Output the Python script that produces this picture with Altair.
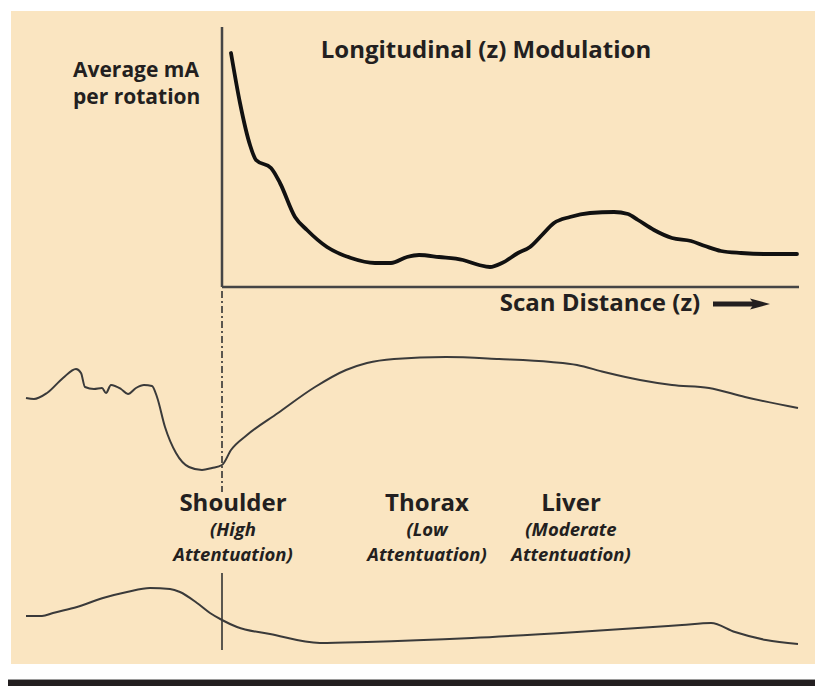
import altair as alt
import pandas as pd

# --- data (figure units: x = scan position, y = vertical position, top-down) ---
ma_z = [231, 240, 250, 256, 271, 280, 295, 307, 327, 351, 375, 391, 407, 419, 439, 463, 479, 490,
        502, 518, 530, 542, 554, 570, 590, 614, 628, 638, 654, 672, 691, 705, 721, 741, 765, 797]
ma_y = [53, 103, 145, 160, 168, 183, 217, 230, 247, 258, 263, 263, 257, 255, 257, 260, 265, 267,
        263, 253, 247, 235, 223, 217, 213, 212, 214, 220, 230, 238, 241, 246, 251, 253, 254, 254]

lat_z = [26, 34, 47, 63, 76, 81, 85, 94, 102, 106, 111, 121, 128, 136, 144, 152, 157, 165, 176, 189,
         202, 212, 222, 231, 247, 278, 315, 346, 367, 394, 446, 499, 551, 577, 604, 640, 672, 709, 745, 798]
lat_y = [398, 399, 393, 378, 369, 373, 387, 389, 388, 393, 385, 389, 394, 388, 385, 386, 397, 427, 453, 467,
         470, 468, 465, 450, 435, 413, 387, 370, 363, 359, 357, 359, 362, 365, 372, 380, 385, 388, 397, 408]

ap_z = [26, 42, 53, 77, 103, 127, 150, 170, 180, 197, 210, 222, 237, 270, 320, 367, 472, 577, 682, 711, 735, 766, 798]
ap_y = [616, 616, 613, 607, 598, 592, 588, 589, 592, 603, 613, 620, 627, 634, 643, 642, 638, 632, 625, 623, 632, 640, 644]

region_names = ["Shoulder", "Thorax", "Liver"]
region_x = [233, 427, 571]
region_sub1 = ["(High", "(Low", "(Moderate"]
region_sub2 = ["Attentuation)", "Attentuation)", "Attentuation)"]

title_text = "Longitudinal (z) Modulation"
ylabel_lines = ["Average mA", "per rotation"]
xlabel_text = "Scan Distance (z)"

BEIGE = "#FAE5C1"
INK = "#231F20"
FONT = "Open Sans"

xs = alt.Scale(domain=[8, 815], nice=False, zero=False)
ys = alt.Scale(domain=[688, 8], nice=False, zero=False)

def X(f="x"):
    return alt.X(f"{f}:Q", scale=xs, axis=None)

def Y(f="y"):
    return alt.Y(f"{f}:Q", scale=ys, axis=None)

# panel and bottom bar
panel = alt.Chart(pd.DataFrame({"x": [11], "x2": [815], "y": [11], "y2": [664]})).mark_rect(
    color=BEIGE).encode(x=X(), x2="x2:Q", y=Y(), y2="y2:Q")
bar = alt.Chart(pd.DataFrame({"x": [8, 8], "x2": [815, 815], "y": [679, 680], "y2": [680, 688],
                              "c": ["#9a9a9a", INK]})).mark_rect().encode(
    x=X(), x2="x2:Q", y=Y(), y2="y2:Q", color=alt.Color("c:N", scale=None))

# axes lines
axes = alt.Chart(pd.DataFrame({"x": [222, 222], "x2": [222, 799], "y": [27, 287], "y2": [287, 287]})).mark_rule(
    color="#454545", strokeWidth=2.5).encode(x=X(), x2="x2:Q", y=Y(), y2="y2:Q")
dashdot = alt.Chart(pd.DataFrame({"x": [222], "y": [291], "y2": [492]})).mark_rule(
    color="#333333", strokeWidth=1.6, strokeDash=[7, 3, 2, 3]).encode(x=X(), y=Y(), y2="y2:Q")
solid = alt.Chart(pd.DataFrame({"x": [222], "y": [573], "y2": [650]})).mark_rule(
    color="#333333", strokeWidth=1.6).encode(x=X(), y=Y(), y2="y2:Q")

# curves
ma = alt.Chart(pd.DataFrame({"x": ma_z, "y": ma_y})).mark_line(
    color="#111111", strokeWidth=3.8, interpolate="monotone", strokeCap="round").encode(x=X(), y=Y())
lat = alt.Chart(pd.DataFrame({"x": lat_z, "y": lat_y})).mark_line(
    color="#3a3a3a", strokeWidth=2, interpolate="monotone").encode(x=X(), y=Y())
ap = alt.Chart(pd.DataFrame({"x": ap_z, "y": ap_y})).mark_line(
    color="#3a3a3a", strokeWidth=2, interpolate="monotone").encode(x=X(), y=Y())

# arrow
shaft = alt.Chart(pd.DataFrame({"x": [713], "x2": [754], "y": [304]})).mark_rule(
    color=INK, strokeWidth=5).encode(x=X(), x2="x2:Q", y=Y())
head = alt.Chart(pd.DataFrame({"x": [760], "y": [304]})).mark_point(
    shape="M-1,-0.55L1,0L-1,0.55L-0.6,0Z", size=400, filled=True, color=INK, opacity=1).encode(x=X(), y=Y())

# texts
title = alt.Chart(pd.DataFrame({"x": [486], "y": [51], "t": [title_text]})).mark_text(
    font=FONT, fontWeight="bold", fontSize=24, color=INK, align="center", baseline="middle").encode(
    x=X(), y=Y(), text="t:N")
ylab = alt.Chart(pd.DataFrame({"x": [73, 73], "y": [71, 98], "t": ylabel_lines})).mark_text(
    font=FONT, fontWeight="bold", fontSize=21, color=INK, align="left", baseline="middle").encode(
    x=X(), y=Y(), text="t:N")
xlab = alt.Chart(pd.DataFrame({"x": [600], "y": [304], "t": [xlabel_text]})).mark_text(
    font=FONT, fontWeight="bold", fontSize=24, color=INK, align="center", baseline="middle").encode(
    x=X(), y=Y(), text="t:N")
names = alt.Chart(pd.DataFrame({"x": region_x, "y": [504] * 3, "t": region_names})).mark_text(
    font=FONT, fontWeight="bold", fontSize=24, color=INK, align="center", baseline="middle").encode(
    x=X(), y=Y(), text="t:N")
sub1 = alt.Chart(pd.DataFrame({"x": region_x, "y": [530] * 3, "t": region_sub1})).mark_text(
    font=FONT, fontWeight="bold", fontStyle="italic", fontSize=18.5, color=INK, align="center",
    baseline="middle").encode(x=X(), y=Y(), text="t:N")
sub2 = alt.Chart(pd.DataFrame({"x": region_x, "y": [555] * 3, "t": region_sub2})).mark_text(
    font=FONT, fontWeight="bold", fontStyle="italic", fontSize=18.5, color=INK, align="center",
    baseline="middle").encode(x=X(), y=Y(), text="t:N")

chart = alt.layer(panel, bar, axes, dashdot, solid, ma, lat, ap, shaft, head,
                  title, ylab, xlab, names, sub1, sub2).properties(
    width=807, height=680, padding=0, background="white").configure_view(stroke=None)

chart.save("out.html", embed_options={"renderer": "svg", "actions": False})
